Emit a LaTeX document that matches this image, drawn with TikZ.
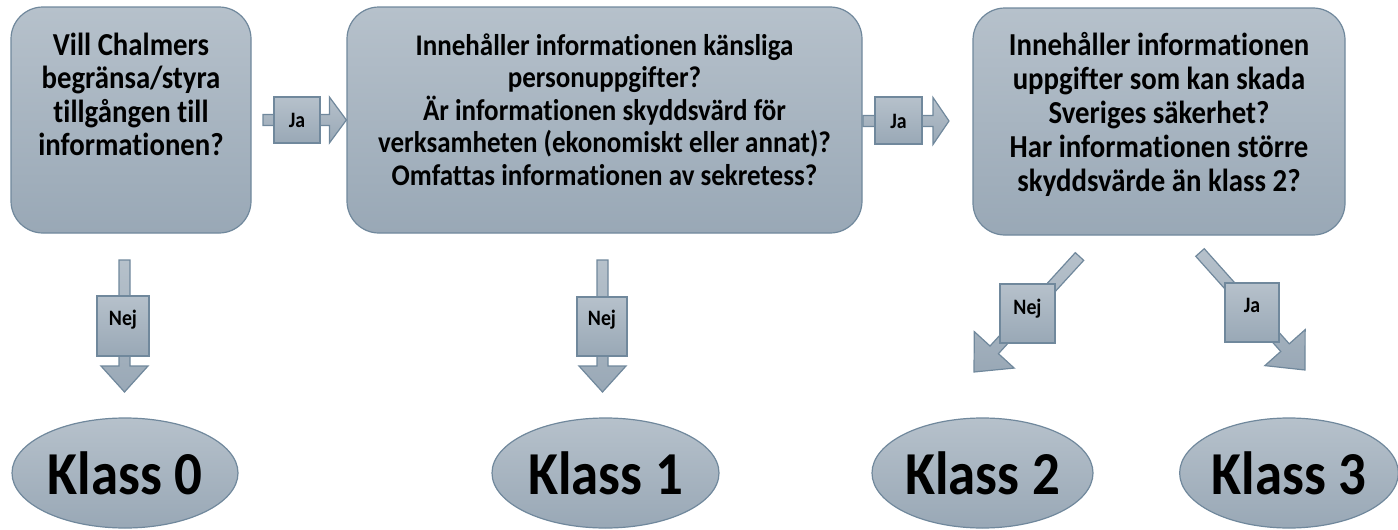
\documentclass[tikz,border=0pt]{standalone}
\usepackage{fontspec}
\newfontfamily\calfont{Carlito}[FakeStretch=0.9,Ligatures=NoCommon]
\usetikzlibrary{shapes.geometric,calc}
\definecolor{ctop}{RGB}{182,193,203}
\definecolor{cbot}{RGB}{153,168,182}
\definecolor{cline}{RGB}{112,136,156}
\tikzset{
  shapefill/.style={top color=ctop,bottom color=cbot,draw=cline,line width=1.2pt},
  qbox/.style={shapefill,rounded corners=32pt,inner sep=0pt},
  qtext/.style 2 args={font={\calfont\bfseries\fontsize{#1}{#2}\selectfont},align=center,anchor=base,inner sep=0pt},
  lbox/.style={shapefill,inner sep=0pt},
  ltext/.style={font={\calfont\bfseries\fontsize{22}{24}\selectfont},anchor=base,inner sep=0pt},
  kell/.style={ellipse,shapefill,inner sep=0pt,minimum height=110pt,
    font={\calfont\bfseries\fontsize{61}{70}\selectfont}},
  arrowshape/.style={shapefill,line join=miter}
}
% #1 start, #2 tip, #3 shaft half width, #4 head length, #5 head half width
\newcommand{\blockarr}[5]{%
  \draw[arrowshape] ($(#1)!#3!90:(#2)$)
    -- ($(#2)!#4!(#1)!#3!-90:(#1)$)
    -- ($(#2)!#4!(#1)!#5!-90:(#1)$)
    -- (#2)
    -- ($(#2)!#4!(#1)!#5!90:(#1)$)
    -- ($(#2)!#4!(#1)!#3!90:(#1)$)
    -- ($(#1)!#3!-90:(#2)$) -- cycle;}
\begin{document}
\begin{tikzpicture}[x=1pt,y=-1pt]
\useasboundingbox (0,0) rectangle (1398,530);
% question boxes
\node[qbox,minimum width=240pt,minimum height=226pt] (q1) at (131,120) {};
\node[qbox,minimum width=515pt,minimum height=226pt] (q2) at (604.5,120) {};
\node[qbox,minimum width=372pt,minimum height=227pt] (q3) at (1159,121.5) {};
% texts anchored at the baseline of their last line
\node[qtext={32}{33.5}] (t1) at (131,155.5) {Vill Chalmers\\begränsa/styra\\tillgången till\\informationen?};
\node[qtext={30}{32.5}] (t2) at (604.5,185) {Innehåller informationen känsliga\\personuppgifter?\\Är informationen skyddsvärd för\\verksamheten (ekonomiskt eller annat)?\\Omfattas informationen av sekretess?};
\node[qtext={32}{34}] (t3) at (1159,191) {Innehåller informationen\\uppgifter som kan skada\\Sveriges säkerhet?\\Har informationen större\\skyddsvärde än klass 2?};
% result ellipses
\node[kell,minimum width=226pt] (k0) at (125,473) {Klass 0};
\node[kell,minimum width=227pt] (k1) at (605.5,473) {Klass 1};
\node[kell,minimum width=221pt] (k2) at (982.5,473) {Klass 2};
\node[kell,minimum width=218pt] (k3) at (1289,473) {Klass 3};
% arrow end points
\coordinate (a1s) at (263,120);
\coordinate (a1e) at (q2.west);
\coordinate (a2s) at (863,121);
\coordinate (a2e) at (949,121);
\coordinate (n1s) at (124.5,260);
\coordinate (n1e) at (124.5,392);
\coordinate (n2s) at (602.5,260);
\coordinate (n2e) at (602.5,392);
\coordinate (n3s) at (1079.5,256.5);
\coordinate (n3e) at (974,372);
\coordinate (a3s) at (1200,252.5);
\coordinate (a3e) at (1305,370);
\blockarr{a1s}{a1e}{5.5pt}{17pt}{23pt}
\blockarr{a2s}{a2e}{5.5pt}{16pt}{23.5pt}
\blockarr{n1s}{n1e}{5.5pt}{26pt}{23.5pt}
\blockarr{n2s}{n2e}{5.5pt}{26pt}{23.5pt}
\blockarr{n3s}{n3e}{5.7pt}{30pt}{27pt}
\blockarr{a3s}{a3e}{5.7pt}{30pt}{27pt}
% label boxes
\node[lbox,minimum width=46pt,minimum height=46pt] (ja1) at (297,120) {};
\node[lbox,minimum width=47pt,minimum height=47pt] (ja2) at (898.5,120.5) {};
\node[lbox,minimum width=52pt,minimum height=60pt] (nej1) at (123,326) {};
\node[lbox,minimum width=50pt,minimum height=59pt] (nej2) at (602,326.5) {};
\node[lbox,minimum width=55pt,minimum height=59pt] (nej3) at (1027.5,313.5) {};
\node[lbox,minimum width=54pt,minimum height=59pt] (ja3) at (1252,312.5) {};
\node[ltext] at (297,127) {Ja};
\node[ltext] at (898.5,128) {Ja};
\node[ltext] at (123,325) {Nej};
\node[ltext] at (602,325) {Nej};
\node[ltext] at (1027.5,314) {Nej};
\node[ltext] at (1252,312) {Ja};
\end{tikzpicture}
\end{document}
